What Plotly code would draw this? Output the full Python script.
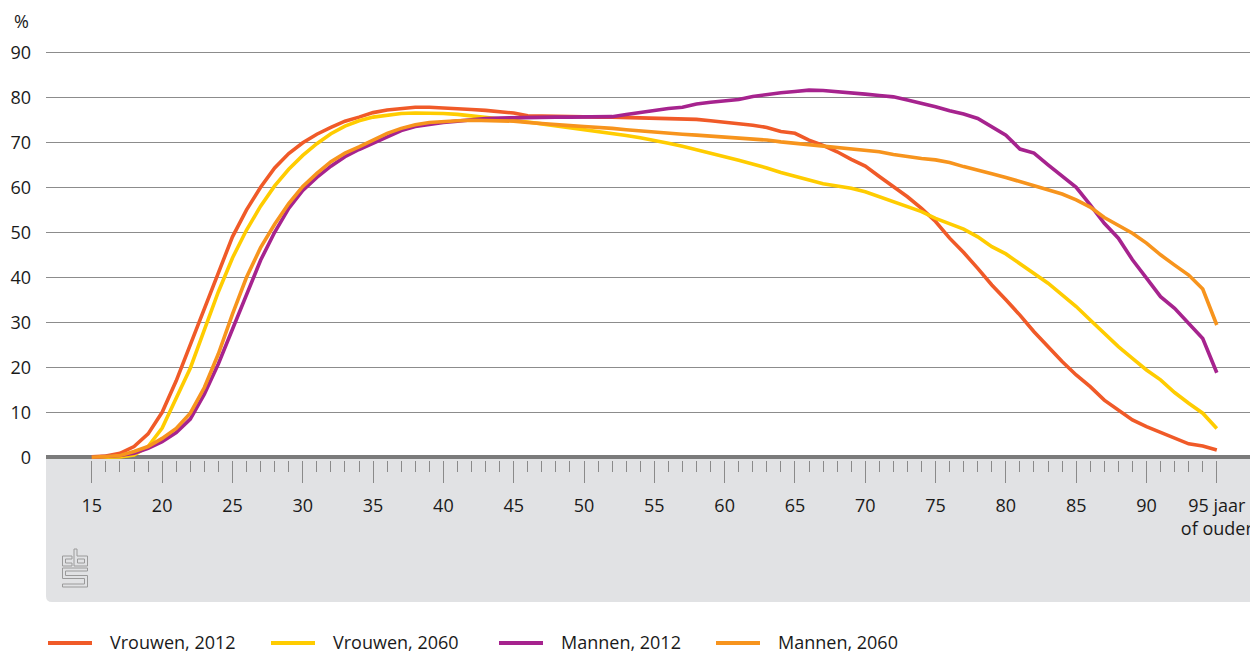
import plotly.graph_objects as go

ages = list(range(15, 96))

vrouwen_2012 = [0.1, 0.3, 0.9, 2.4, 5.2, 10.0, 17.0, 25.0, 33.3, 41.5,
                49.0, 55.0, 60.0, 64.3, 67.5, 69.9, 71.8, 73.3, 74.7, 75.6,
                76.6, 77.2, 77.6, 77.8, 77.8, 77.7, 77.6, 77.3, 77.1, 76.8,
                76.5, 75.9, 75.8, 75.7, 75.7, 75.7, 75.6, 75.6, 75.5, 75.5,
                75.5, 75.4, 75.2, 75.1, 74.8, 74.5, 74.1, 73.8, 73.3, 72.4,
                72.0, 70.5, 69.3, 67.9, 66.2, 64.7, 62.4, 60.1, 57.9, 55.3,
                52.4, 48.7, 45.5, 42.0, 38.3, 35.0, 31.6, 27.9, 24.6, 21.3,
                18.3, 15.7, 12.7, 10.5, 8.3, 6.8, 5.5, 4.2, 3.0, 2.5,
                1.6]

vrouwen_2060 = [0.0, 0.0, 0.1, 0.5, 2.4, 6.5, 13.0, 19.8, 28.3, 36.8,
                44.3, 50.5, 55.8, 60.3, 64.0, 67.1, 69.7, 71.9, 73.6, 74.8,
                75.6, 76.1, 76.4, 76.5, 76.5, 76.4, 76.2, 75.9, 75.6, 75.3,
                75.0, 74.5, 74.1, 73.7, 73.2, 72.8, 72.4, 71.9, 71.5, 71.0,
                70.5, 69.8, 69.1, 68.4, 67.6, 66.8, 66.0, 65.2, 64.3, 63.3,
                62.4, 61.6, 60.8, 60.3, 59.8, 59.0, 57.9, 56.8, 55.7, 54.6,
                53.1, 52.0, 50.7, 49.0, 46.8, 45.2, 43.1, 40.9, 38.7, 36.1,
                33.5, 30.5, 27.6, 24.6, 22.0, 19.4, 17.2, 14.4, 12.0, 9.8,
                6.4]

mannen_2012 = [0.0, 0.1, 0.4, 0.9, 2.0, 3.5, 5.5, 8.5, 14.0, 20.8,
               28.5, 36.5, 43.8, 50.0, 55.3, 59.3, 62.2, 64.7, 66.8, 68.4,
               69.8, 71.3, 72.6, 73.5, 74.0, 74.4, 74.7, 75.1, 75.3, 75.4,
               75.5, 75.5, 75.5, 75.6, 75.6, 75.6, 75.6, 75.7, 76.2, 76.7,
               77.0, 77.5, 77.8, 78.5, 78.9, 79.3, 79.5, 80.2, 80.7, 81.0,
               81.3, 81.6, 81.5, 81.3, 81.1, 80.7, 80.4, 80.1, 79.4, 78.7,
               77.9, 77.0, 76.3, 75.3, 73.5, 71.6, 68.5, 67.6, 65.0, 62.4,
               60.0, 56.1, 52.0, 48.7, 43.9, 39.8, 35.7, 33.1, 29.8, 26.4,
               18.8]

mannen_2060 = [0.0, 0.1, 0.4, 1.3, 2.4, 4.2, 6.4, 9.8, 15.5, 23.0,
               31.8, 40.0, 46.6, 51.8, 56.4, 60.2, 63.1, 65.7, 67.6, 69.0,
               70.5, 72.0, 73.1, 73.9, 74.4, 74.7, 74.8, 74.9, 74.9, 74.9,
               74.7, 74.4, 74.1, 73.9, 73.7, 73.5, 73.4, 73.1, 72.8, 72.5,
               72.2, 72.0, 71.8, 71.6, 71.4, 71.2, 71.0, 70.8, 70.5, 70.1,
               69.8, 69.5, 69.1, 68.8, 68.6, 68.3, 67.9, 67.3, 66.8, 66.4,
               66.1, 65.5, 64.6, 63.9, 63.0, 62.2, 61.3, 60.4, 59.6, 58.5,
               57.2, 55.6, 53.3, 51.6, 49.8, 47.6, 45.0, 42.7, 40.5, 37.4,
               29.4]

series_names = ["Vrouwen, 2012", "Vrouwen, 2060", "Mannen, 2012", "Mannen, 2060"]
series_values = [vrouwen_2012, vrouwen_2060, mannen_2012, mannen_2060]
series_colors = ["#f05a28", "#ffcc00", "#a6238e", "#f7941d"]

x_tickvals = list(range(15, 96, 5))
x_ticktext = [str(v) for v in x_tickvals[:-1]] + ["95 jaar<br>of ouder"]
y_tickvals = list(range(0, 91, 10))
y_ticktext = [str(v) for v in y_tickvals]

# the page body has an 8px margin, so the figure is 8px smaller on each side
OFF = 8
W, H = 1250, 645
ML, MR, MT, MB = 38, 0, 35, 193
PW = W - ML - MR
PH = H - MT - MB
FS = 18


def px(x):
    """screen x (page pixels) -> paper x"""
    return (x - OFF - ML) / PW


def py(y):
    """screen y (page pixels) -> paper y"""
    return (H - MB - (y - OFF)) / PH


fig = go.Figure()
for name, vals, col in zip(series_names, series_values, series_colors):
    fig.add_trace(go.Scatter(x=ages, y=vals, mode="lines", name=name,
                             line=dict(color=col, width=3.6),
                             showlegend=False))

shapes = []
# grey band under the axis with rounded bottom corners
x0, x1 = px(46), px(1258)
yt, yb = py(459), py(602)
rx, ry = 6 / PW, 6 / PH
band = (f"M{x0},{yt} L{x1},{yt} L{x1},{yb + ry} Q{x1},{yb} {x1 - rx},{yb} "
        f"L{x0 + rx},{yb} Q{x0},{yb} {x0},{yb + ry} Z")
shapes.append(dict(type="path", path=band, xref="paper", yref="paper",
                   fillcolor="#e1e2e4", line=dict(width=0), layer="below"))


def poly(points):
    return "M" + " L".join(f"{px(a)},{py(b)}" for a, b in points) + " Z"


logo_paths = [
    [(72, 556), (62.5, 556), (62.5, 566), (72, 566), (72, 563), (65.5, 563), (65.5, 559), (72, 559)],
    [(74, 549), (77, 549), (77, 556), (87.5, 556), (87.5, 566), (74, 566)],
    [(77.5, 559), (84.5, 559), (84.5, 563), (77.5, 563)],
    [(62.5, 568), (87.5, 568), (87.5, 571), (65.5, 571), (65.5, 575.5), (87.5, 575.5),
     (87.5, 587), (62.5, 587), (62.5, 584), (84.5, 584), (84.5, 578.5), (62.5, 578.5)],
]
for p in logo_paths:
    shapes.append(dict(type="path", path=poly(p), xref="paper", yref="paper",
                       line=dict(color="#9a9a9a", width=1), fillcolor="rgba(0,0,0,0)"))

annotations = [dict(text="%", x=px(12), y=py(21), xref="paper", yref="paper",
                    xanchor="left", yanchor="middle", showarrow=False,
                    font=dict(size=FS, color="#1a1a1a"))]

# legend built below the chart
leg_line_x = [48, 271, 499, 716]
leg_y = 643
for name, col, lx in zip(series_names, series_colors, leg_line_x):
    shapes.append(dict(type="line", xref="paper", yref="paper",
                       x0=px(lx), x1=px(lx + 44), y0=py(leg_y), y1=py(leg_y),
                       line=dict(color=col, width=4)))
    annotations.append(dict(text=name, x=px(lx + 60), y=py(leg_y - 1), xref="paper",
                            yref="paper", xanchor="left", yanchor="middle",
                            showarrow=False, font=dict(size=FS, color="#1a1a1a")))

fig.update_layout(
    width=W, height=H,
    margin=dict(l=ML, r=MR, t=MT, b=MB, pad=0),
    paper_bgcolor="white", plot_bgcolor="rgba(0,0,0,0)",
    font=dict(family="Open Sans", size=FS, color="#1a1a1a"),
    shapes=shapes, annotations=annotations, showlegend=False,
    xaxis=dict(range=[11.74, 97.93], tickmode="array", tickvals=x_tickvals,
               ticktext=x_ticktext, ticks="outside", ticklen=22, tickwidth=1.2,
               tickcolor="#8a8a8a", showgrid=False, zeroline=False, showline=False,
               ticklabelstandoff=7, tickfont=dict(size=FS),
               minor=dict(tickmode="array", tickvals=[v for v in range(16, 95) if v % 5],
                          ticks="outside", ticklen=11, tickwidth=1.2, tickcolor="#8a8a8a",
                          showgrid=False)),
    yaxis=dict(range=[-0.6, 92.07], tickmode="array", tickvals=y_tickvals,
               ticktext=y_ticktext, ticks="", showgrid=True, gridcolor="#8c8c8c",
               gridwidth=1, zeroline=True, zerolinecolor="#7b7b7b", zerolinewidth=3.5,
               showline=False, ticklabelstandoff=14, tickfont=dict(size=FS)),
)

fig.write_html("out.html")
